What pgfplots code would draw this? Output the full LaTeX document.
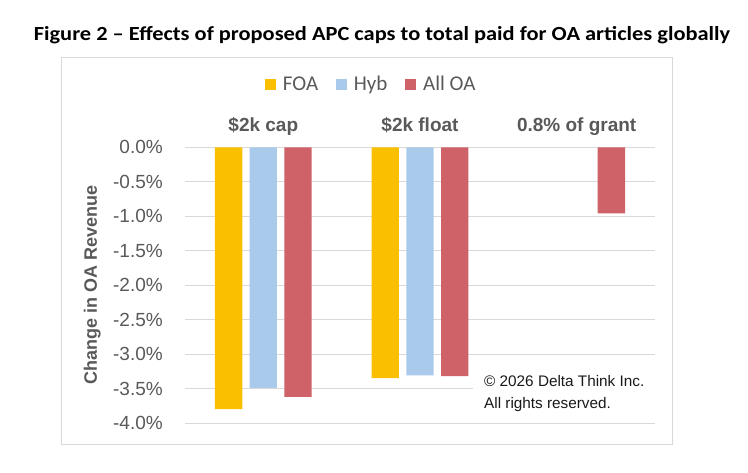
\documentclass[border=0pt]{standalone}
\usepackage{fontspec}
\setmainfont{Liberation Sans}
\newfontfamily\carlito{Carlito}
\usepackage{pgfplots}
\pgfplotsset{compat=1.18}
\definecolor{foa}{HTML}{FAC000}
\definecolor{hyb}{HTML}{A9CAEB}
\definecolor{alloa}{HTML}{CF6168}
\definecolor{gridgray}{HTML}{D9D9D9}
\definecolor{labgray}{HTML}{595959}
\begin{document}
\begin{tikzpicture}[x=1bp,y=-1bp]
\path[use as bounding box] (0,0) rectangle (748,473);
\draw[gridgray, line width=1bp] (61.3,57.3) rectangle (672,444);
\node[anchor=base, inner sep=0pt, xscale=1.12, font=\carlito\bfseries\fontsize{20bp}{23bp}\selectfont] at (382,40.7) {Figure 2 – Effects of proposed APC caps to total paid for OA articles globally};
\coordinate (P) at (185,423);
\begin{axis}[
  at={(P)}, anchor=south west,
  width=470bp, height=275.7bp, scale only axis,
  xmin=-0.5, xmax=2.5, ymin=-4, ymax=0,
  ybar, bar width=27.3bp,
  axis line style={draw=none},
  major tick length=0pt,
  ymajorgrids, grid style={draw=gridgray, line width=1bp},
  ytick={-4,-3.5,-3,-2.5,-2,-1.5,-1,-0.5,0},
  /pgf/number format/assume math mode=true,
  yticklabel={\pgfmathprintnumber[fixed,fixed zerofill,precision=1]{\tick}\%},
  yticklabel style={anchor=east, inner sep=0pt, xshift=-22bp, font=\fontsize{19bp}{22bp}\selectfont, text=labgray},
  xtick={0,1,2}, xticklabels={\$2k cap,\$2k float,0.8\% of grant},
  xticklabel pos=upper,
  xticklabel style={anchor=base, inner sep=0pt, yshift=15.6bp, font=\bfseries\fontsize{19bp}{22bp}\selectfont, text=labgray},
  ylabel={Change in OA Revenue},
  every axis y label/.style={at={([xshift=-92.7bp]rel axis cs:0,0.5)}, rotate=90, anchor=center, inner sep=0pt, font=\bfseries\fontsize{18bp}{22bp}\selectfont, text=labgray},
  legend style={at={(rel axis cs:0.3945,1.2285)}, anchor=center, draw=none, fill=none, legend columns=-1,
    font=\carlito\fontsize{21bp}{25bp}\selectfont, text=labgray,
    /tikz/every odd column/.append style={column sep=6.6bp},
    /tikz/every even column/.append style={column sep=18bp},
    nodes={inner xsep=0bp}},
  legend image code/.code={\fill[#1] (0bp,-5.5bp) rectangle (11bp,5.5bp);},
]
\addplot[fill=foa, draw=none, bar shift=-34.7bp] coordinates {(0,-3.80) (1,-3.35)};
\addplot[fill=hyb, draw=none, bar shift=0bp] coordinates {(0,-3.49) (1,-3.31)};
\addplot[fill=alloa, draw=none, bar shift=34.7bp] coordinates {(0,-3.62) (1,-3.32) (2,-0.96)};
\legend{FOA,Hyb,All OA}
\end{axis}
\fill[white] (473,362) rectangle (660,419);
\node[anchor=base west, inner sep=0pt, font=\fontsize{15.3bp}{18bp}\selectfont, text=black!90] at (484,386) {© 2026 Delta Think Inc.};
\node[anchor=base west, inner sep=0pt, font=\fontsize{15.3bp}{18bp}\selectfont, text=black!90] at (484,408.3) {All rights reserved.};
\end{tikzpicture}
\end{document}
